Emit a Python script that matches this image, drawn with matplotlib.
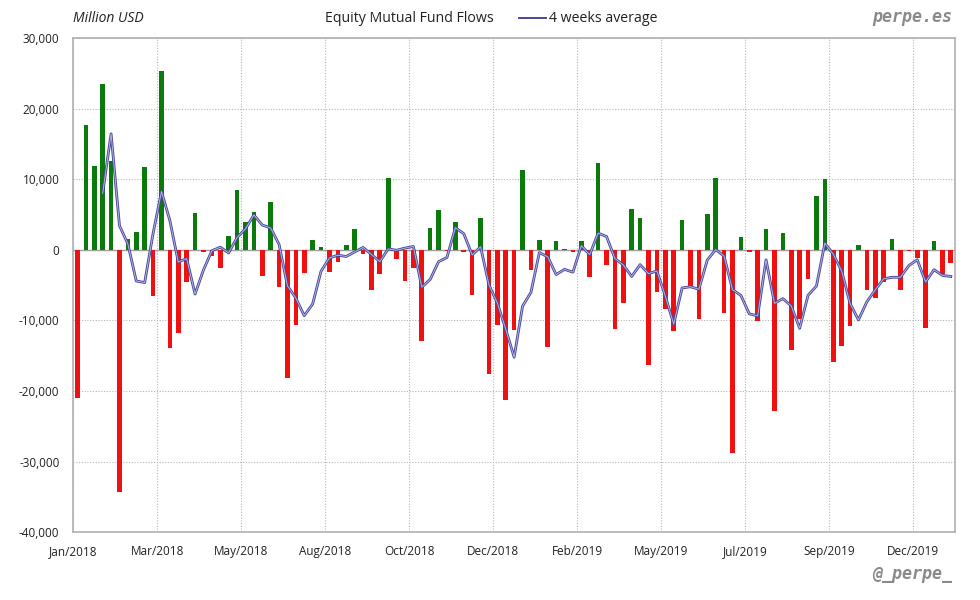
import matplotlib
matplotlib.use("Agg")
import matplotlib.pyplot as plt
import numpy as np
import pandas as pd

# Weekly equity mutual fund flows (million USD), Jan 2018 - Dec 2019
flows = [
    -21000, 17700, 11900, 23500, 12600, -34300, 1500, 2550, 11700, -6500,
    25300, -13900, -11800, -4550, 5200, -300, -850, -2550, 1950, 8450,
    4000, 5350, -3700, 6750, -5250, -18150, -10650, -3250, 1350, 400,
    -3100, -1700, 650, 2950, -550, -5650, -3450, 10150, -1300, -4400,
    -2550, -12900, 3100, 5650, -150, 3950, -300, -6400, 4500, -17600,
    -10650, -21200, -11350, 11300, -2850, 1350, -13750, 1250, 100, -250,
    1250, -3850, 12300, -2150, -11200, -7500, 5800, 4500, -16300, -5950,
    -8350, -11500, 4200, -5250, -9800, 5050, 10150, -8950, -28800, 1800,
    -300, -10100, 2950, -22850, 2350, -14200, -9750, -4150, 7600, 10050,
    -15900, -13650, -10800, 650, -5700, -6800, -4550, 1500, -5700, -200,
    -1200, -11100, 1250, -3400, -1850,
]
tick_labels = ["Jan/2018", "Mar/2018", "May/2018", "Aug/2018", "Oct/2018",
               "Dec/2018", "Feb/2019", "May/2019", "Jul/2019", "Sep/2019",
               "Dec/2019"]
y_ticks = [30000, 20000, 10000, 0, -10000, -20000, -30000, -40000]

series = pd.Series(flows, dtype=float)
avg4 = series.rolling(4).mean()

FONT = ["Open Sans", "DejaVu Sans"]
plt.rcParams["font.family"] = FONT

fig = plt.figure(figsize=(9.8, 6.0), dpi=100)
ax = fig.add_axes([73.3 / 980, (600 - 532.3) / 600, (955 - 73.3) / 980, (532.3 - 38) / 600])

x = np.arange(len(flows))
colors = ["#0a7a0a" if v >= 0 else "#f01010" for v in flows]
ax.bar(x, flows, width=0.55, color=colors, zorder=2)

ax.plot(x, avg4.values, color="#47479a", lw=2.0, zorder=3)
ax.plot(x, avg4.values, color="#b4b4e4", lw=0.7, zorder=4)

ax.axhline(0, color="#a0a0a0", lw=1.0, zorder=1)

ax.set_xlim(-0.5, len(flows) - 0.5)
ax.set_ylim(-40000, 30000)
ax.set_yticks(y_ticks)
ax.set_yticklabels([f"{v:,}" for v in y_ticks])
ax.set_xticks([-0.5 + 10 * k for k in range(len(tick_labels))])
ax.set_xticklabels(tick_labels)
ax.tick_params(axis="both", length=0, labelsize=8.5, colors="#222222")
ax.tick_params(axis="y", pad=10)
ax.tick_params(axis="x", pad=9)

ax.grid(True, which="major", linestyle=(0, (1, 1.5)), color="#b5b5b5", lw=0.8, zorder=0)
ax.set_axisbelow(True)
for s in ax.spines.values():
    s.set_color("#b0b0b0")
    s.set_linewidth(1.2)

# Header texts
fig.text(73 / 980, 1 - 19 / 600, "Million USD", style="italic", fontsize=10,
         ha="left", va="center", color="#222222")
fig.text(325 / 980, 1 - 18 / 600, "Equity Mutual Fund Flows", fontsize=10.2,
         ha="left", va="center", color="#222222")
fig.add_artist(plt.Line2D([519 / 980, 546 / 980], [1 - 18 / 600, 1 - 18 / 600],
                          color="#4a4a96", lw=1.4))
fig.text(549 / 980, 1 - 18 / 600, "4 weeks average", fontsize=10.2,
         ha="left", va="center", color="#222222")
fig.text(952 / 980, 1 - 17 / 600, "perpe.es", family="DejaVu Sans Mono",
         weight="bold", style="italic", fontsize=12, ha="right", va="center",
         color="#8a8a8a")
fig.text(952 / 980, 1 - 574 / 600, "@_perpe_", family="DejaVu Sans Mono",
         weight="bold", style="italic", fontsize=12, ha="right", va="center",
         color="#8a8a8a")

fig.savefig("out.png", dpi=100)
